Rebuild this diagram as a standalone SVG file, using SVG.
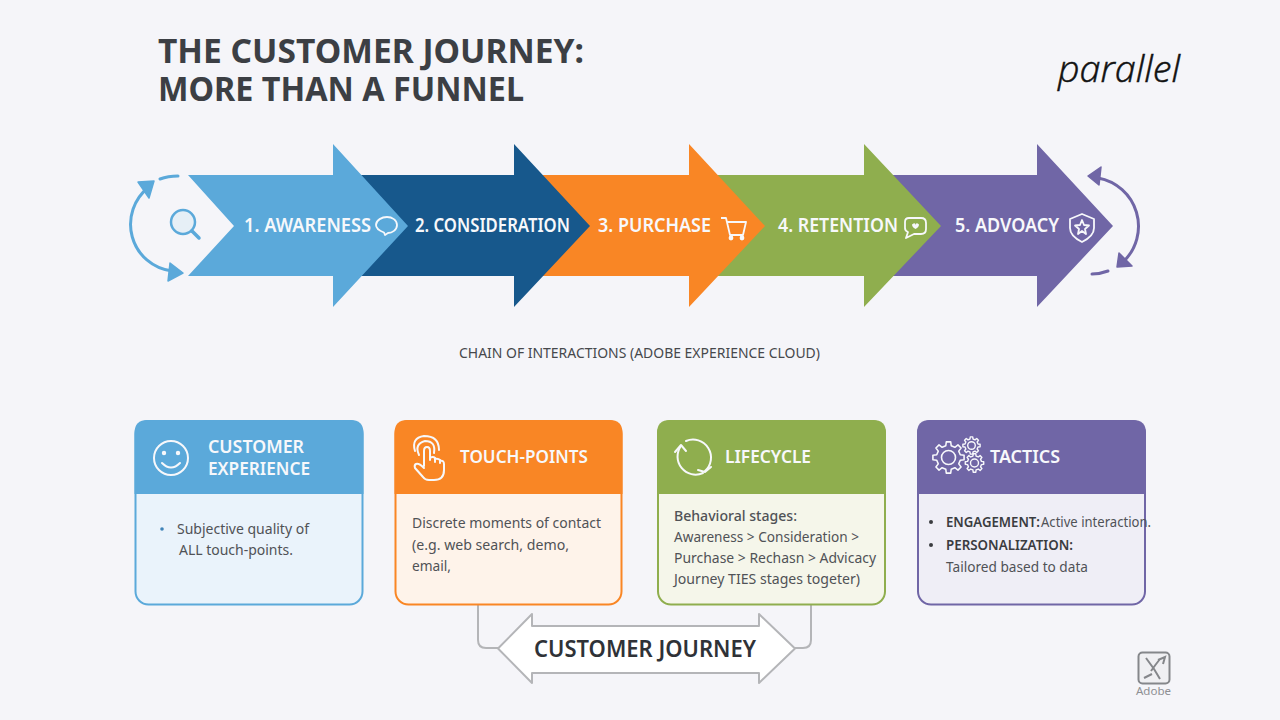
<svg xmlns="http://www.w3.org/2000/svg" width="1280" height="720" viewBox="0 0 1280 720">
<defs>
<path id="gear" d="M11.2 -2.59L14.85 -2.09L14.85 2.09L11.2 2.59L9.75 6.09L11.98 9.03L9.03 11.98L6.09 9.75L2.59 11.2L2.09 14.85L-2.09 14.85L-2.59 11.2L-6.09 9.75L-9.03 11.98L-11.98 9.03L-9.75 6.09L-11.2 2.59L-14.85 2.09L-14.85 -2.09L-11.2 -2.59L-9.75 -6.09L-11.98 -9.03L-9.03 -11.98L-6.09 -9.75L-2.59 -11.2L-2.09 -14.85L2.09 -14.85L2.59 -11.2L6.09 -9.75L9.03 -11.98L11.98 -9.03L9.75 -6.09Z"/>
<style>
text{font-family:"Noto Sans","Open Sans","Liberation Sans",sans-serif}
.title{font-size:34.500px;font-weight:700;fill:#3c3f44}
.lab{font-size:19px;font-weight:600;fill:#f7f8fb}
.hd{font-size:18px;font-weight:600;fill:#f7f8fb}
.body{font-size:14.5px;fill:#505256}
.bold{font-weight:600;fill:#3a3c40}
.ic{fill:none;stroke:#f7f8fb;stroke-width:2;stroke-linecap:round;stroke-linejoin:round}
.conn{fill:none;stroke:#b4b5b8;stroke-width:2}
</style>
</defs>
<rect width="1280" height="720" fill="#f5f5f9"/>
<g id="heading">
<text class="title"><tspan x="158" y="62.500" textLength="426" lengthAdjust="spacingAndGlyphs">THE CUSTOMER JOURNEY:</tspan><tspan x="158" y="101" textLength="366" lengthAdjust="spacingAndGlyphs">MORE THAN A FUNNEL</tspan></text>
</g>
<g id="logo"><text x="1058" y="82" font-size="37" font-style="italic" font-weight="300" fill="#111" stroke="#111" stroke-width=".5" textLength="122" lengthAdjust="spacingAndGlyphs" style="font-family:'Open Sans',sans-serif">parallel</text></g>

<g id="cycle-left" fill="none" stroke="#5BA9DA" stroke-width="3" stroke-linecap="round">
<path d="M172 271A47 47 0 0 1 149 187"/>
<path d="M160 179Q168 176 178 176"/>
<path d="M138 182L154 181L149 198Z" fill="#5BA9DA" stroke-linejoin="round" stroke-width="1.5"/>
<path d="M170 263L183 273L168 281Z" fill="#5BA9DA" stroke-linejoin="round" stroke-width="1.5"/>
</g>
<g id="cycle-right" fill="none" stroke="#7066A6" stroke-width="3" stroke-linecap="round">
<path d="M1098 178A49 49 0 0 1 1123 262"/>
<path d="M1092 274Q1100 274 1108 271"/>
<path d="M1088 176L1101 167L1099 185Z" fill="#7066A6" stroke-linejoin="round" stroke-width="1.5"/>
<path d="M1117 267L1119 253L1132 266Z" fill="#7066A6" stroke-linejoin="round" stroke-width="1.5"/>
</g>

<g id="stage-5"><path d="M880 175H1037V144L1113 226L1037 307V276H880Z" fill="#7066A6"/>
<text class="lab" x="955" y="232" textLength="104" lengthAdjust="spacingAndGlyphs">5. ADVOACY</text>
<g fill="none" stroke="#f7f8fb" stroke-width="1.8" stroke-linejoin="round"><path d="M1082 214L1070 219V228C1070 235 1076 239 1082 242C1088 239 1094 235 1094 228V219Z"/><path d="M1082 220L1084 225L1089 225.500L1085 229L1086 234L1082 231L1078 234L1079 229L1075 225.500L1080 225Z"/></g></g>
<g id="stage-4"><path d="M700 175H864V144L941 226L864 307V276H700Z" fill="#8FAE4E"/>
<text class="lab" x="778" y="232" textLength="120" lengthAdjust="spacingAndGlyphs">4. RETENTION</text>
<g fill="none" stroke="#f7f8fb" stroke-width="1.8" stroke-linejoin="round"><path d="M909 218H921Q926 218 926 223V229Q926 234 921 234H914L906 238L908 232Q905 231 905 228V222Q905 218 909 218Z"/><path d="M912 224.500Q915.500 222 915.500 225Q916 222 919 224.500Q919 227 915.500 229Q912 227 912 224.500Z" fill="#f7f8fb" stroke="none"/></g></g>
<g id="stage-3"><path d="M530 175H689V144L765 226L689 307V276H530Z" fill="#F98625"/>
<text class="lab" x="598" y="232" textLength="113" lengthAdjust="spacingAndGlyphs">3. PURCHASE</text>
<g fill="none" stroke="#f7f8fb" stroke-width="1.8" stroke-linejoin="round"><path d="M721 218H726L730 235H743L746 222H727"/><circle cx="731" cy="238" r="1.500" fill="#f7f8fb"/><circle cx="742" cy="238" r="1.500" fill="#f7f8fb"/></g></g>
<g id="stage-2"><path d="M350 175H514V144L590 226L514 307V276H350Z" fill="#17588C"/>
<text class="lab" x="415" y="232" textLength="155" lengthAdjust="spacingAndGlyphs">2. CONSIDERATION</text></g>
<g id="stage-1"><path d="M188 175H333V144L408 226L333 307V276H188L234 226Z" fill="#5BA9DA"/>
<text class="lab" x="244" y="232" textLength="127" lengthAdjust="spacingAndGlyphs">1. AWARENESS</text>
<path d="M387 217C392 217 397 220 397 225C397 230 392 233 388 233L385 235L384 232.500C380 231 376 229 376 225C376 220 382 217 387 217Z" fill="none" stroke="#f7f8fb" stroke-width="1.800" stroke-linejoin="round"/></g>
<g id="search-icon" fill="none" stroke="#5BA9DA"><circle cx="183" cy="222" r="12" stroke-width="2.500" fill="#e6eff6"/><path d="M192 231L199 238" stroke-width="3.500" stroke-linecap="round"/></g>

<text x="459" y="358" font-size="14" fill="#46484c" textLength="361" lengthAdjust="spacingAndGlyphs">CHAIN OF INTERACTIONS (ADOBE EXPERIENCE CLOUD)</text>

<g id="connectors">
<path class="conn" d="M478 605V640Q478 648 486 648H498"/>
<path class="conn" d="M811 605V640Q811 648 803 648H795"/>
</g>

<g id="card-experience">
<rect x="135.500" y="421" width="227" height="183.500" rx="13" fill="#eaf3fb" stroke="#5BA9DA" stroke-width="2"/>
<path d="M134.500 494V433Q134.500 420 147.500 420H350.500Q363.500 420 363.500 433V494Z" fill="#5BA9DA"/>
<g class="ic"><circle cx="171" cy="458" r="17"/><circle cx="164" cy="453" r="1.200" fill="#f7f8fb"/><circle cx="178" cy="453" r="1.200" fill="#f7f8fb"/><path d="M162 463Q171 472 180 463"/></g>
<text class="hd" x="208" y="453" textLength="96" lengthAdjust="spacingAndGlyphs">CUSTOMER</text>
<text class="hd" x="208" y="475" textLength="102" lengthAdjust="spacingAndGlyphs">EXPERIENCE</text>
<circle cx="162" cy="529" r="1.800" fill="#3f83b8"/>
<text class="body" x="177" y="534" textLength="132" lengthAdjust="spacingAndGlyphs">Subjective quality of</text>
<text class="body" x="179" y="555" textLength="114" lengthAdjust="spacingAndGlyphs">ALL touch-points.</text>
</g>

<g id="card-touchpoints">
<rect x="395.500" y="421" width="226" height="183.500" rx="13" fill="#fef3ea" stroke="#F98625" stroke-width="2"/>
<path d="M394.500 494V433Q394.500 420 407.500 420H609.500Q622.500 420 622.500 433V494Z" fill="#F98625"/>
<g class="ic" stroke-width="1.800"><path d="M424 451V466M424 451Q424 447 427 447Q430 447 430 451V460M430 458Q433 456 435 458V462M435 459Q438 458 440 460V463M440 461Q444 460 444 464V470Q444 480 434 480H429Q425 480 423 477L415 468Q414 465 416 464Q419 463 424 468"/><path d="M419 455Q414 444 425 441Q436 441 434 453"/><path d="M415 451Q411 438 424 436Q439 436 439 450"/></g>
<text class="hd" x="460" y="463" textLength="128" lengthAdjust="spacingAndGlyphs">TOUCH-POINTS</text>
<text class="body" x="412" y="528" textLength="189" lengthAdjust="spacingAndGlyphs">Discrete moments of contact</text>
<text class="body" x="412" y="550" textLength="157" lengthAdjust="spacingAndGlyphs">(e.g. web search, demo,</text>
<text class="body" x="412" y="571" textLength="39" lengthAdjust="spacingAndGlyphs">email,</text>
</g>

<g id="card-lifecycle">
<rect x="658" y="421" width="227" height="183.500" rx="13" fill="#f5f6ea" stroke="#8FAE4E" stroke-width="2"/>
<path d="M657 494V433Q657 420 670 420H873Q886 420 886 433V494Z" fill="#8FAE4E"/>
<g class="ic" stroke-width="2.200"><path d="M681 446A18 18 0 0 0 703 473"/><path d="M686 441A18 18 0 0 1 705 471"/><path d="M675 452L681 445L686 451"/><path d="M698 470L705 472L711 467"/></g>
<text class="hd" x="725" y="463" textLength="86" lengthAdjust="spacingAndGlyphs">LIFECYCLE</text>
<text class="body" x="674" y="521" font-weight="500" textLength="123" lengthAdjust="spacingAndGlyphs">Behavioral stages:</text>
<text class="body" x="674" y="542" textLength="185" lengthAdjust="spacingAndGlyphs">Awareness &gt; Consideration &gt;</text>
<text class="body" x="674" y="563" textLength="202" lengthAdjust="spacingAndGlyphs">Purchase &gt; Rechasn &gt; Advicacy</text>
<text class="body" x="674" y="584" textLength="186" lengthAdjust="spacingAndGlyphs">Journey TIES stages togeter)</text>
</g>

<g id="card-tactics">
<rect x="918" y="421" width="227" height="183.500" rx="13" fill="#efeef6" stroke="#7066A6" stroke-width="2"/>
<path d="M917 494V433Q917 420 930 420H1133Q1146 420 1146 433V494Z" fill="#7066A6"/>
<g fill="none" stroke="#f7f8fb" stroke-linejoin="round">
<use href="#gear" transform="translate(948.500 457.500) scale(1.050)" stroke-width="1.500"/><circle cx="948.500" cy="457.500" r="7" stroke-width="1.600"/>
<use href="#gear" transform="translate(971.500 445.500) scale(.58)" stroke-width="2.400"/><circle cx="971.500" cy="445.500" r="3.800" stroke-width="1.400"/>
<use href="#gear" transform="translate(974.500 463) scale(.62)" stroke-width="2.300"/><circle cx="974.500" cy="463" r="4" stroke-width="1.400"/>
</g>
<text class="hd" x="990" y="463" textLength="70" lengthAdjust="spacingAndGlyphs">TACTICS</text>
<circle cx="931" cy="522" r="2" fill="#3a3c40"/><circle cx="931" cy="545" r="2" fill="#3a3c40"/>
<text class="body bold" x="946" y="527" textLength="94" lengthAdjust="spacingAndGlyphs">ENGAGEMENT:</text>
<text class="body" x="1041" y="527" textLength="110" lengthAdjust="spacingAndGlyphs">Active interaction.</text>
<text class="body bold" x="946" y="550" textLength="127" lengthAdjust="spacingAndGlyphs">PERSONALIZATION:</text>
<text class="body" x="946" y="572" textLength="142" lengthAdjust="spacingAndGlyphs">Tailored based to data</text>
</g>

<g id="customer-journey">
<path d="M498 648.500L532 614V626H759V614L795 648.500L759 683V673H532V683Z" fill="#fff" stroke="#b4b5b8" stroke-width="2" stroke-linejoin="round"/>
<text x="534" y="657" font-size="23" font-weight="600" fill="#2f3237" textLength="222" lengthAdjust="spacingAndGlyphs">CUSTOMER JOURNEY</text>
</g>

<g id="adobe-mark">
<rect x="1138.500" y="652.500" width="31" height="31" rx="4" fill="#f0f0f3" stroke="#85878b" stroke-width="2"/>
<path d="M1146 658L1154 669L1160 679M1160 659Q1156 664 1151 671M1144 678L1152 674M1158 660L1165 657L1163 664" fill="none" stroke="#85878b" stroke-width="2"/>
<text x="1136" y="695" font-size="11.500" fill="#8e9094" textLength="35" lengthAdjust="spacingAndGlyphs">Adobe</text>
</g>
</svg>
